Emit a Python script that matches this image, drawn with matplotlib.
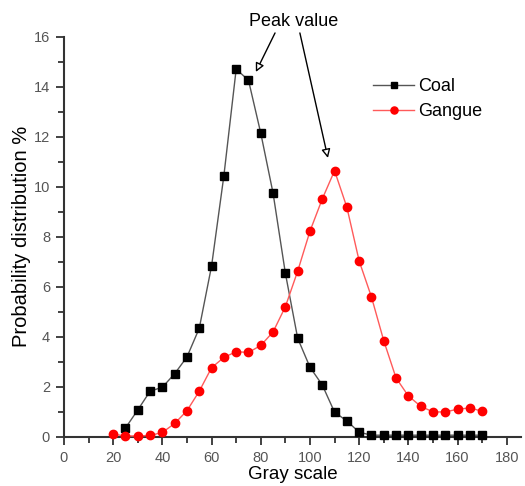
import matplotlib
matplotlib.use("Agg")
import matplotlib.pyplot as plt
from matplotlib.ticker import MultipleLocator

plt.rcParams['font.family'] = ['Liberation Sans', 'DejaVu Sans']

coal_x = [25, 30, 35, 40, 45, 50, 55, 60, 65, 70, 75, 80, 85, 90, 95, 100,
          105, 110, 115, 120, 125, 130, 135, 140, 145, 150, 155, 160, 165, 170]
coal_y = [0.35, 1.07, 1.82, 1.98, 2.52, 3.19, 4.34, 6.83, 10.44, 14.70, 14.26,
          12.14, 9.74, 6.54, 3.94, 2.78, 2.07, 0.98, 0.63, 0.18, 0.06, 0.06,
          0.06, 0.06, 0.06, 0.06, 0.06, 0.06, 0.06, 0.06]

gangue_x = [20, 25, 30, 35, 40, 45, 50, 55, 60, 65, 70, 75, 80, 85, 90, 95,
            100, 105, 110, 115, 120, 125, 130, 135, 140, 145, 150, 155, 160,
            165, 170]
gangue_y = [0.10, 0.03, 0.03, 0.05, 0.17, 0.53, 1.04, 1.82, 2.76, 3.17, 3.40,
            3.37, 3.65, 4.19, 5.20, 6.62, 8.22, 9.51, 10.64, 9.18, 7.03, 5.59,
            3.84, 2.35, 1.63, 1.22, 0.99, 0.99, 1.10, 1.15, 1.02]

series_names = ["Coal", "Gangue"]
x_label = "Gray scale"
y_label = "Probability distribution %"
annot_text = "Peak value"

fig = plt.figure(figsize=(5.25, 4.86), dpi=100)
ax = fig.add_axes([64/525, 1 - 436.7/486, (521-64)/525, 400/486])

ax.plot(coal_x, coal_y, color='#555555', lw=1.0, marker='s', markersize=5.2,
        markerfacecolor='black', markeredgecolor='black', label=series_names[0],
        clip_on=False, zorder=3)
ax.plot(gangue_x, gangue_y, color='#ff5a5a', lw=1.0, marker='o', markersize=6,
        markerfacecolor='#ff0000', markeredgecolor='#ff0000', label=series_names[1],
        clip_on=False, zorder=4)

ax.set_xlim(0, 185.8)
ax.set_ylim(0, 16)
ax.xaxis.set_major_locator(MultipleLocator(20))
ax.xaxis.set_minor_locator(MultipleLocator(10))
ax.yaxis.set_major_locator(MultipleLocator(2))
ax.yaxis.set_minor_locator(MultipleLocator(1))
ax.set_xticks(range(0, 181, 20))

for s in ['top', 'right']:
    ax.spines[s].set_visible(False)
for s in ['left', 'bottom']:
    ax.spines[s].set_color('#333333')
    ax.spines[s].set_linewidth(1.5)

ax.tick_params(which='both', direction='out', color='#333333', width=1.3)
ax.tick_params(which='major', length=6, labelsize=10.5, labelcolor='#555555', pad=4)
ax.tick_params(which='minor', length=4)

ax.set_xlabel(x_label, fontsize=13.5, labelpad=1)
ax.set_ylabel(y_label, fontsize=14.5, labelpad=2)

leg = ax.legend(loc='upper left', bbox_to_anchor=(0.66, 0.915), frameon=False,
                fontsize=13, handlelength=2.3, handletextpad=0.2,
                labelspacing=0.45, borderaxespad=0, markerscale=0.85)

arrowprops = dict(arrowstyle='-|>', facecolor='white', edgecolor='black',
                  lw=1.0, mutation_scale=13, shrinkA=0, shrinkB=0)
ax.annotate('', xy=(78.0, 14.59), xytext=(85.8, 16.15), arrowprops=arrowprops,
            annotation_clip=False)
ax.annotate('', xy=(107.3, 11.15), xytext=(95.9, 16.15), arrowprops=arrowprops,
            annotation_clip=False)
ax.text(93.5, 16.62, annot_text, ha='center', va='center', fontsize=13,
        clip_on=False)

fig.savefig('out.png', dpi=100)
